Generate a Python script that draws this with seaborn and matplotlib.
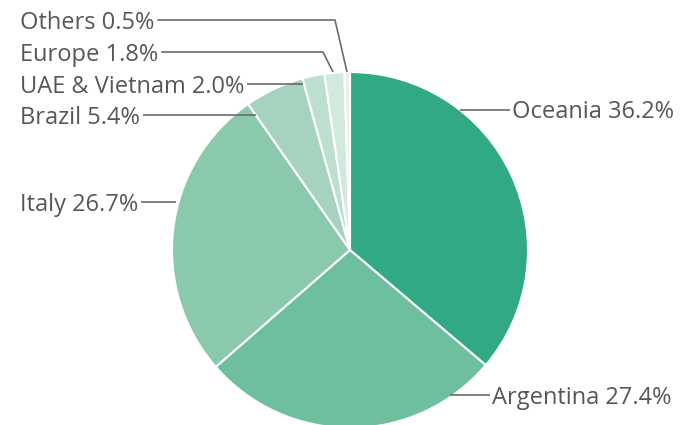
import matplotlib
matplotlib.use('Agg')
import matplotlib.pyplot as plt
import seaborn as sns

regions = ['Oceania', 'Argentina', 'Italy', 'Brazil', 'UAE & Vietnam', 'Europe', 'Others']
shares = [36.2, 27.4, 26.7, 5.4, 2.0, 1.8, 0.5]
colors = ['#30a984', '#6ebf9e', '#8bc9ad', '#a6d3bf', '#bcdfcf', '#d2e9de', '#e4f2eb']

sns.set_theme(style='white')
plt.rcParams['font.family'] = ['Open Sans', 'DejaVu Sans']

W, H = 687, 425
fig = plt.figure(figsize=(W / 100, H / 100), dpi=100)
ax = fig.add_axes([0, 0, 1, 1])

# pie in pixel units (y flipped so pixel y -> H - y)
ax.pie(shares, colors=colors, startangle=90, counterclock=False,
       center=(350, H - 250), radius=178,
       wedgeprops={'edgecolor': 'white', 'linewidth': 1.5})
ax.set_xlim(0, W)
ax.set_ylim(0, H)
ax.set_aspect('equal')
ax.axis('off')

# label layout: text x, text y, side, leader line path (pixel coords)
# for left labels the first point is replaced by the end of the text
layout = {
    'Others': (20, 20, 'L', [(166, 20), (335, 20), (347, 72)]),
    'Europe': (20, 52, 'L', [(167, 52), (323, 52), (333, 72)]),
    'UAE & Vietnam': (20, 84, 'L', [(262, 84), (303, 84)]),
    'Brazil': (20, 115, 'L', [(150, 115), (256, 115)]),
    'Italy': (20, 202, 'L', [(147, 202), (176, 202)]),
    'Oceania': (512, 109, 'R', [(460, 110), (510, 110)]),
    'Argentina': (492, 395, 'R', [(450, 395), (490, 395)]),
}

fs = 17
cap_half = 0.36 * fs * 100 / 72
renderer = fig.canvas.get_renderer()

for name, share in zip(regions, shares):
    tx, ty, side, path = layout[name]
    t = ax.text(tx, H - ty - cap_half, f'{name} {share:.1f}%', ha='left', va='baseline',
                fontsize=fs, color='#575757')
    path = list(path)
    if side == 'L':
        x_end = t.get_window_extent(renderer).x1
        path[0] = (x_end + 3, path[0][1])
    xs = [p[0] for p in path]
    ys = [H - p[1] for p in path]
    ax.plot(xs, ys, color='#6b6b6b', linewidth=1.2, solid_capstyle='butt')

fig.savefig('out.png', dpi=100)
